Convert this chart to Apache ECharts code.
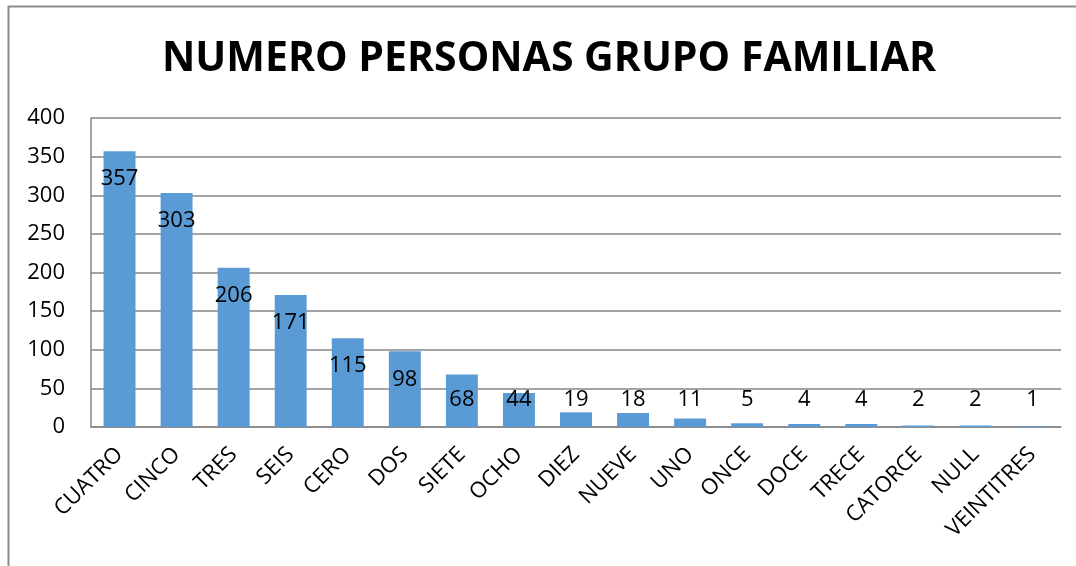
<!DOCTYPE html>
<html>
<head>
<meta charset="utf-8">
<script src="https://cdn.jsdelivr.net/npm/echarts@6/dist/echarts.min.js"></script>
<style>
    html, body { margin: 0; padding: 0; background: #ffffff; }
    #chart { width: 1076px; height: 566px; }
</style>
</head>
<body>
<div id="chart"></div>
<script>
var titleText = 'NUMERO PERSONAS GRUPO FAMILIAR';
var categories = ['CUATRO', 'CINCO', 'TRES', 'SEIS', 'CERO', 'DOS', 'SIETE', 'OCHO', 'DIEZ',
    'NUEVE', 'UNO', 'ONCE', 'DOCE', 'TRECE', 'CATORCE', 'NULL', 'VEINTITRES'];
var personas = [357, 303, 206, 171, 115, 98, 68, 44, 19, 18, 11, 5, 4, 4, 2, 2, 1];
var yTicks = [0, 50, 100, 150, 200, 250, 300, 350, 400];

var fontName = '"Open Sans", "DejaVu Sans", sans-serif';

// barras cortas: la etiqueta queda abajo (como en Excel)
var barData = personas.map(function(v) {
    return {
        value: v,
        label: v < 80 ? { position: 'insideBottom', distance: 16 } : { position: 'insideTop', distance: 17 }
    };
});

var myChart = echarts.init(document.getElementById('chart'));
var option = {
    backgroundColor: '#ffffff',
    animation: false,
    title: {
        text: titleText,
        left: 544,
        top: 34,
        textAlign: 'center',
        textStyle: {
            fontFamily: fontName,
            fontSize: 41,
            fontWeight: 'bold',
            color: '#000000'
        }
    },
    graphic: [{
        type: 'rect',
        shape: { x: 8.5, y: 6.5, width: 1200, height: 700 },
        style: { fill: 'none', stroke: '#8c8c8c', lineWidth: 2 },
        silent: true
    }],
    grid: {
        left: 91,
        right: 15,
        top: 118,
        bottom: 139
    },
    xAxis: {
        type: 'category',
        data: categories,
        axisLine: { show: true, lineStyle: { color: '#868686', width: 1.5 } },
        axisTick: { show: false },
        axisLabel: {
            rotate: 45,
            interval: 0,
            margin: 24,
            fontFamily: fontName,
            fontSize: 22,
            color: '#000000'
        }
    },
    yAxis: {
        type: 'value',
        min: yTicks[0],
        max: yTicks[yTicks.length - 1],
        interval: yTicks[1] - yTicks[0],
        axisLine: { show: true, lineStyle: { color: '#868686', width: 1.5 } },
        axisTick: { show: false },
        splitLine: { lineStyle: { color: '#868686', width: 1.5 } },
        axisLabel: {
            margin: 26,
            fontFamily: fontName,
            fontSize: 22,
            color: '#000000'
        }
    },
    series: [{
        name: 'Personas',
        type: 'bar',
        data: barData,
        barWidth: '56%',
        itemStyle: { color: '#5b9bd5' },
        label: {
            show: true,
            fontFamily: fontName,
            fontSize: 22,
            color: '#000000'
        }
    }]
};
myChart.setOption(option);
</script>
</body>
</html>
